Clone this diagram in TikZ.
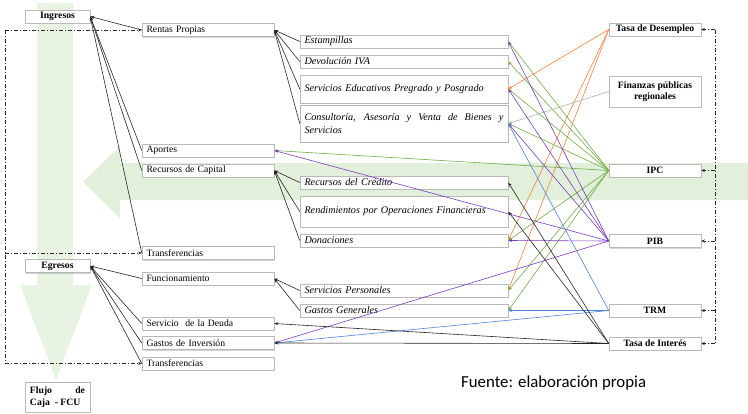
\documentclass[tikz,border=0pt]{standalone}
\usepackage{fontspec}
\setmainfont{Liberation Serif}
\newfontfamily\fuentefont{Carlito}
\usetikzlibrary{arrows.meta,shadows}
\definecolor{bgg}{RGB}{226,239,218}
\definecolor{corange}{RGB}{240,130,60}
\definecolor{cgreen}{RGB}{112,173,71}
\definecolor{cpurple}{RGB}{120,60,190}
\definecolor{cblue}{RGB}{80,130,215}
\definecolor{cgray}{RGB}{175,175,175}
\begin{document}
\begin{tikzpicture}[x=1pt,y=-1pt,
 box/.style={draw=gray!55, fill=white, line width=0.5pt,
   drop shadow={shadow xshift=1.3pt,shadow yshift=-1.3pt,opacity=0.35},
   font=\fontsize{9.7}{11}\selectfont, inner xsep=4.5pt, inner ysep=0pt},
 lbox/.style={box, text width=123pt, minimum height=13pt, align=left},
 mbox/.style={box, text width=199pt, align=left, font=\fontsize{10.2}{13}\selectfont\itshape},
 rbox/.style={box, minimum width=92pt, minimum height=13pt, font=\fontsize{9.7}{11}\selectfont\bfseries, align=center},
 kbox/.style={box, minimum width=65pt, minimum height=13pt, font=\fontsize{9.7}{11}\selectfont\bfseries},
 conn/.style={line width=0.6pt, -{Stealth[length=4pt,width=3pt]}},
 blk/.style={conn, black!85},
 org/.style={conn, corange},
 grn/.style={conn, cgreen},
 pur/.style={conn, cpurple},
 blu/.style={conn, cblue},
 gry/.style={conn, cgray},
 ddline/.style={line width=0.8pt, black!85, dash pattern=on 4pt off 2pt on 1pt off 2pt},
 dd/.style={ddline, -{Stealth[length=3.5pt,width=3pt]}}
]
\useasboundingbox (0,0) rectangle (748,413);
% background arrows
\fill[bgg!75] (37,3) -- (73,3) -- (73,285) -- (92,285) -- (56,380) -- (20,285) -- (37,285) -- cycle;
\fill[bgg] (748,163) -- (120,163) -- (120,146) -- (83,182) -- (120,218) -- (120,200) -- (748,200) -- cycle;

% left column
\node[kbox] (ing) at (57.5,16.5) {Ingresos};
\node[lbox] (rp) at (208,30) {Rentas Propias};
\node[lbox] (ap) at (208,150.5) {Aportes};
\node[lbox] (rc) at (208,170.5) {Recursos de Capital};
\node[lbox] (tr1) at (208,253) {Transferencias};
\node[kbox] (egr) at (57.5,266) {Egresos};
\node[lbox] (fun) at (208,278.5) {Funcionamiento};
\node[lbox] (sd) at (208,323.5) {Servicio\ \ de la Deuda};
\node[lbox] (gi) at (208,343) {Gastos de Inversión};
\node[lbox] (tr2) at (208,363.5) {Transferencias};
\node[box, minimum width=65pt, minimum height=30pt, text width=55pt, align=justify,
  font=\fontsize{9.7}{12}\selectfont\bfseries] (fcu) at (57.5,397) {Flujo de\linebreak Caja \ - FCU};

% middle column
\node[mbox, minimum height=13pt] (es) at (404,41.5) {Estampillas};
\node[mbox, minimum height=13pt] (dv) at (404,61.5) {Devolución IVA};
\node[mbox, minimum height=28pt] (se) at (404,89) {Servicios Educativos Pregrado y Posgrado};
\node[mbox, minimum height=37pt, align=justify] (co) at (404,123.5) {Consultoría, Asesoría y Venta de Bienes y\linebreak Servicios};
\node[mbox, minimum height=13pt] (rcr) at (404,182.5) {Recursos del Crédito};
\node[mbox, minimum height=31pt] (ro) at (404,211.5) {Rendimientos por Operaciones Financieras};
\node[mbox, minimum height=13pt] (do) at (404,240.5) {Donaciones};
\node[mbox, minimum height=13pt] (sp) at (404,290.5) {Servicios Personales};
\node[mbox, minimum height=13pt] (gg) at (404,310.5) {Gastos Generales};

% right column
\node[rbox] (td) at (655,29.5) {Tasa de Desempleo};
\node[rbox, minimum height=31pt] (fp) at (655,91.5) {Finanzas públicas\\regionales};
\node[rbox] (ipc) at (655,170.5) {IPC};
\node[rbox] (pib) at (655,241) {PIB};
\node[rbox] (trm) at (655,310.5) {TRM};
\node[rbox] (ti) at (655,343.5) {Tasa de Interés};

\node[font=\fuentefont\fontsize{16.8}{18}\selectfont, anchor=west, inner sep=0pt] (fuente) at (461,383) {Fuente: elaboración propia};

% hierarchy connectors
\foreach \n in {rp,ap,rc,tr1} \draw[blk] (\n.west) -- (ing.east);
\foreach \n in {fun,sd,gi,tr2} \draw[blk] (\n.west) -- (egr.east);
\foreach \n in {es,dv,se,co} \draw[blk] (\n.west) -- (rp.east);
\foreach \n in {rcr,ro,do} \draw[blk] (\n.west) -- (rc.east);
\foreach \n in {sp,gg} \draw[blk] (\n.west) -- (fun.east);

% variable connectors
\foreach \n in {se,do,sp} \draw[org] (td.west) -- (\n.east);
\draw[gry] (fp.west) -- (co.east);
\foreach \n in {es,dv,se,co,ap,do,sp,gg} \draw[grn] (ipc.west) -- (\n.east);
\foreach \n in {es,se,co,ap,do,gi} \draw[pur] (pib.west) -- (\n.east);
\foreach \n in {co,gg,gi} \draw[blu] (trm.west) -- (\n.east);
\foreach \n in {rcr,ro,sd,gi} \draw[blk] (ti.west) -- (\n.east);

% dash-dot feedback lines
\coordinate (L) at (5,30);
\draw[ddline] (rp.west -| L) -- (tr2.west -| L);
\foreach \n in {rp,tr1,tr2} \draw[dd] (\n.west -| L) -- (\n.west);
\coordinate (R) at (715,29.5);
\draw[ddline] (td.east -| R) -- (ti.east -| R);
\foreach \n in {td,ipc,pib,trm,ti} \draw[dd] (\n.east -| R) -- (\n.east);
\end{tikzpicture}
\end{document}
